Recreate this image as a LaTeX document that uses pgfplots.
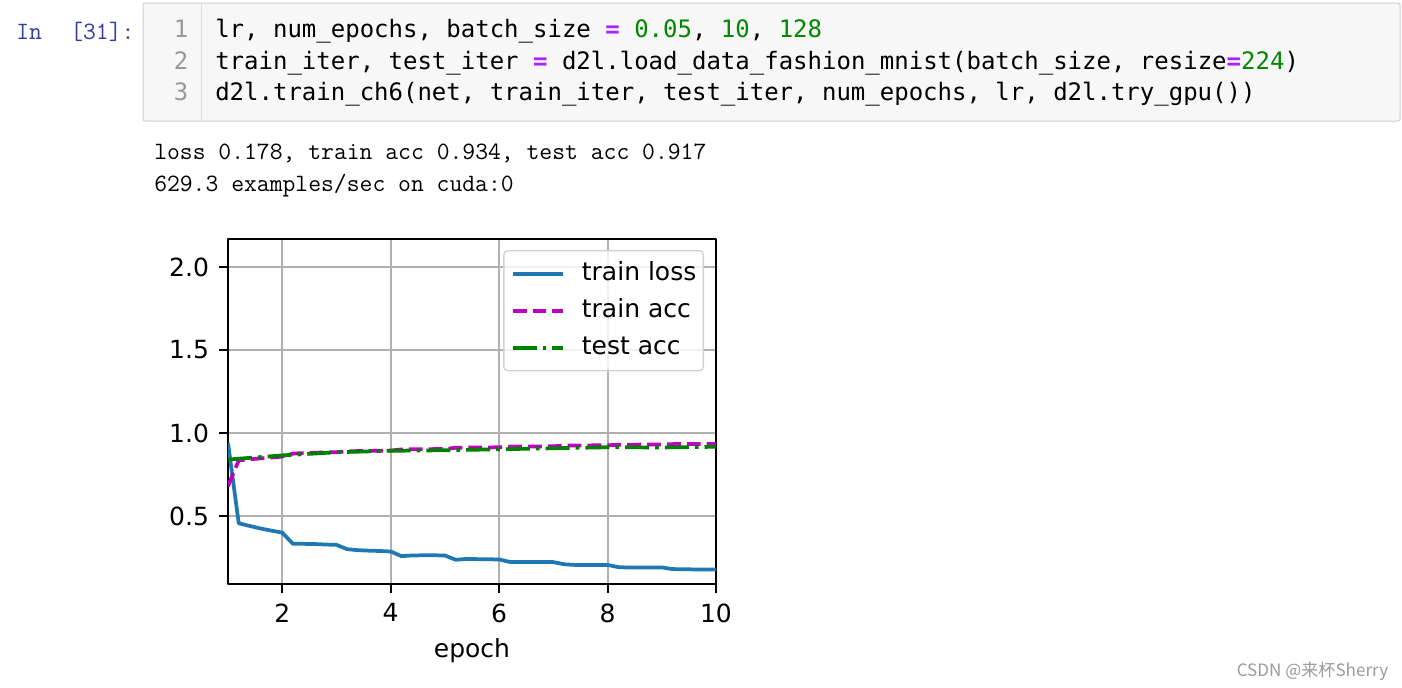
\documentclass[border=0pt]{standalone}
\usepackage{fontspec}
\usepackage{pgfplots}
\pgfplotsset{compat=1.18}
\newfontfamily\djv{DejaVu Sans}
\newfontfamily\djvmono{DejaVu Sans Mono}
\newfontfamily\cjk{Noto Sans CJK SC}
\definecolor{mplblue}{HTML}{1F77B4}
\definecolor{mplmag}{HTML}{BF00BF}
\definecolor{mplgreen}{HTML}{008000}
\definecolor{mplgrid}{HTML}{B0B0B0}
\definecolor{legedge}{HTML}{D0D0D0}
\definecolor{cellbg}{HTML}{F7F7F7}
\definecolor{cellborder}{HTML}{CFCFCF}
\definecolor{gutter}{HTML}{DDDDDD}
\definecolor{lineno}{HTML}{999999}
\definecolor{prompt}{HTML}{303F9F}
\definecolor{oppurple}{HTML}{AA22FF}
\definecolor{numgreen}{HTML}{008800}
\definecolor{wmark}{HTML}{9A9A9A}
\newcommand\mplfont{\djv\fontsize{18.75}{22}\selectfont}
\newcommand\codefont{\djvmono\fontsize{18.0}{22}\selectfont\frenchspacing}
\newcommand\outfont{\ttfamily\fontsize{18.7}{22}\selectfont\frenchspacing}
\newcommand\eq{\textcolor{oppurple}{\textbf{=}}}
\newcommand\num[1]{\textcolor{numgreen}{#1}}

\begin{document}
\begin{tikzpicture}
\begin{scope}[x=0.75pt,y=-0.75pt]
  \useasboundingbox (0,0) rectangle (1402,687);
  % notebook cell
  \draw[cellborder, fill=cellbg, line width=0.75pt, rounded corners=1.5pt] (143,3) rectangle (1400,121);
  \draw[gutter, line width=0.75pt] (201.7,3.5) -- (201.7,120.5);
  \node[anchor=base west, inner sep=0pt, font=\outfont, text=prompt] at (16,39.3) {In};
  \node[anchor=base west, inner sep=0pt, font=\outfont, text=prompt] at (70,39.3) {[31]:};
  \foreach \n/\y in {1/37.3, 2/69.3, 3/100.7}
    \node[anchor=base east, inner sep=0pt, font=\codefont, text=lineno] at (188.5,\y) {\n};
  \node[anchor=base west, inner sep=0pt, font=\codefont] at (215,37.3)
    {lr, num\_epochs, batch\_size \eq{} \num{0.05}, \num{10}, \num{128}};
  \node[anchor=base west, inner sep=0pt, font=\codefont] at (215,69.3)
    {train\_iter, test\_iter \eq{} d2l.load\_data\_fashion\_mnist(batch\_size, resize\eq\num{224})};
  \node[anchor=base west, inner sep=0pt, font=\codefont] at (215,100.7)
    {d2l.train\_ch6(net, train\_iter, test\_iter, num\_epochs, lr, d2l.try\_gpu())};
  % printed output
  \node[anchor=base west, inner sep=0pt, font=\outfont] at (154,159.3)
    {loss 0.178, train acc 0.934, test acc 0.917};
  \node[anchor=base west, inner sep=0pt, font=\outfont] at (154,191.5)
    {629.3 examples/sec on cuda:0};
  % watermark
  \node[anchor=base west, inner sep=0pt, text=wmark, font={\cjk\fontsize{12.8}{15}\selectfont}] at (1236.5,676)
    {CSDN @来杯Sherry};
\end{scope}

\begin{axis}[
  at={(171pt,-438pt)}, anchor=south west,
  scale only axis, width=366pt, height=258.75pt,
  xmin=1, xmax=10, ymin=0.09, ymax=2.169,
  xtick={2,4,6,8,10}, ytick={0.5,1,1.5,2},
  /pgf/number format/assume math mode=true,
  tick label style={font=\mplfont, inner sep=0pt},
  xticklabel style={anchor=north, yshift=-8pt},
  yticklabel style={anchor=east, xshift=-7.5pt,
    /pgf/number format/fixed, /pgf/number format/fixed zerofill, /pgf/number format/precision=1},
  tick align=outside, tick pos=left,
  major tick length=6.56pt,
  every tick/.style={black, line width=1.5pt},
  axis line style={black, line width=1.5pt},
  grid=major, major grid style={mplgrid, line width=1.5pt},
  xlabel={epoch},
  xlabel style={font=\mplfont, inner sep=0pt, at={(axis description cs:0.5,0)}, anchor=north, yshift=-40.5pt},
  legend cell align=left,
  legend image code/.code={\draw[#1] (0pt,0pt) -- (37.5pt,0pt);},
  legend style={at={(rel axis cs:1,1)}, anchor=north east, xshift=-9pt, yshift=-8.25pt,
    draw=legedge, line width=1pt, rounded corners=3pt, fill=white, fill opacity=0.8, text opacity=1,
    font=\mplfont, inner xsep=5.25pt, inner ysep=8pt, row sep=9.25pt, column sep=13pt,
    nodes={inner sep=0pt, text height=14pt, text depth=4.5pt}},
  line join=round,
]
\addplot[mplblue, line width=2.8pt] coordinates {
(1.0,0.94)
(1.198,0.456)(1.397,0.440)(1.595,0.425)(1.793,0.412)(2.0,0.400)
(2.198,0.332)(2.397,0.332)(2.595,0.331)(2.793,0.328)(3.0,0.326)
(3.198,0.300)(3.397,0.294)(3.595,0.291)(3.793,0.289)(4.0,0.286)
(4.198,0.258)(4.397,0.262)(4.595,0.263)(4.793,0.263)(5.0,0.262)
(5.198,0.236)(5.397,0.241)(5.595,0.240)(5.793,0.239)(6.0,0.238)
(6.198,0.223)(6.397,0.223)(6.595,0.223)(6.793,0.223)(7.0,0.222)
(7.198,0.209)(7.397,0.205)(7.595,0.205)(7.793,0.205)(8.0,0.205)
(8.198,0.192)(8.397,0.189)(8.595,0.189)(8.793,0.190)(9.0,0.190)
(9.198,0.180)(9.397,0.179)(9.595,0.178)(9.793,0.178)(10.0,0.178)
};
\addlegendentry{train loss}
\addplot[mplmag, line width=2.8pt, dash pattern=on 10.4pt off 4.5pt] coordinates {
(1.0,0.68)
(1.198,0.835)(1.397,0.841)(1.595,0.847)(1.793,0.852)(2.0,0.858)
(2.198,0.876)(2.397,0.879)(2.595,0.881)(2.793,0.883)(3.0,0.884)
(3.198,0.890)(3.397,0.891)(3.595,0.892)(3.793,0.893)(4.0,0.894)
(4.198,0.901)(4.397,0.902)(4.595,0.902)(4.793,0.903)(5.0,0.903)
(5.198,0.911)(5.397,0.912)(5.595,0.912)(5.793,0.913)(6.0,0.914)
(6.198,0.918)(6.397,0.918)(6.595,0.919)(6.793,0.919)(7.0,0.920)
(7.198,0.924)(7.397,0.925)(7.595,0.925)(7.793,0.926)(8.0,0.926)
(8.198,0.929)(8.397,0.930)(8.595,0.930)(8.793,0.931)(9.0,0.931)
(9.198,0.933)(9.397,0.934)(9.595,0.934)(9.793,0.934)(10.0,0.934)
};
\addlegendentry{train acc}
\addplot[mplgreen, line width=2.8pt, dash pattern=on 18pt off 4.5pt on 2.8pt off 4.5pt] coordinates {
(1,0.840)(2,0.865)(3,0.884)(4,0.893)(5,0.896)(6,0.902)(7,0.908)(8,0.914)(9,0.913)(10,0.917)
};
\addlegendentry{test acc}
\end{axis}
\end{tikzpicture}
\end{document}
